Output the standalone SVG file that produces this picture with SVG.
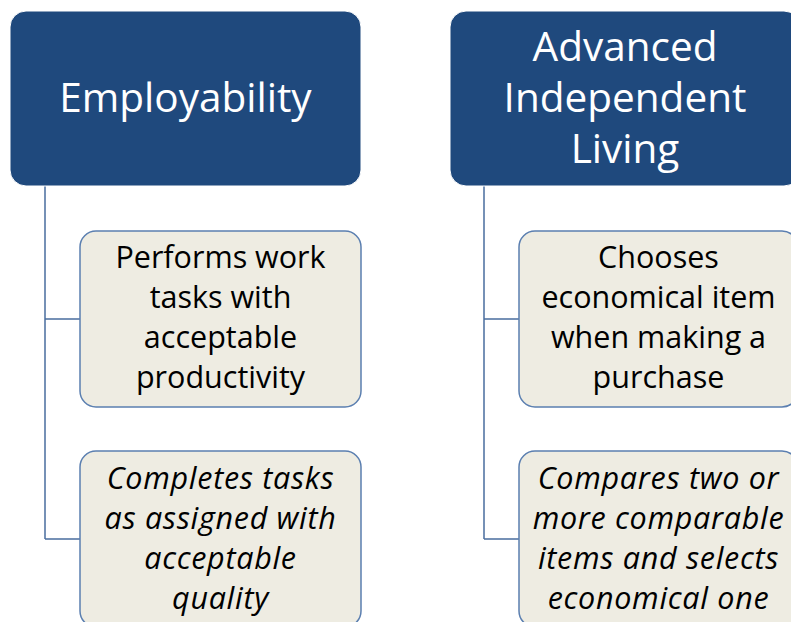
<svg xmlns="http://www.w3.org/2000/svg" width="791" height="622" viewBox="0 0 791 622">
<style>
.hdr{fill:#1F497D;stroke:#FFFFFF;stroke-width:1}
.child{fill:#EEECE2;stroke:#5B7FB0;stroke-width:1.5}
.ht{font-family:"Open Sans","Liberation Sans",sans-serif;font-size:40.5px;fill:#FFFFFF;text-anchor:middle}
.ct{font-family:"Open Sans","Liberation Sans",sans-serif;font-size:30.5px;fill:#000000;text-anchor:middle}
.it{font-style:italic;letter-spacing:0.7px}
.conn{fill:none;stroke:#4A6E9E;stroke-width:1.5}
</style>
<rect width="791" height="622" fill="#FFFFFF"/>
<g id="connectors">
<path class="conn" d="M45,186 V539 M45,319 H80 M45,539 H80"/>
<path class="conn" d="M484,186 V539 M484,319 H519 M484,539 H519"/>
</g>
<g id="employability">
<rect class="hdr" x="10" y="11" width="351" height="175" rx="16"/>
<text class="ht" x="185.5" y="112">Employability</text>
</g>
<g id="performs">
<rect class="child" x="80" y="231" width="281" height="176" rx="16"/>
<text class="ct" x="220.5" y="268">Performs work</text>
<text class="ct" x="220.5" y="308">tasks with</text>
<text class="ct" x="220.5" y="348">acceptable</text>
<text class="ct" x="220.5" y="388">productivity</text>
</g>
<g id="completes">
<rect class="child" x="80" y="451" width="281" height="176" rx="16"/>
<text class="ct it" x="220.5" y="489">Completes tasks</text>
<text class="ct it" x="220.5" y="529">as assigned with</text>
<text class="ct it" x="220.5" y="569">acceptable</text>
<text class="ct it" x="220.5" y="609">quality</text>
</g>
<g id="advanced">
<rect class="hdr" x="450" y="11" width="350" height="175" rx="16"/>
<text class="ht" x="625" y="61">Advanced</text>
<text class="ht" x="625" y="112">Independent</text>
<text class="ht" x="625" y="163">Living</text>
</g>
<g id="chooses">
<rect class="child" x="519" y="231" width="279" height="176" rx="16"/>
<text class="ct" x="658.5" y="268">Chooses</text>
<text class="ct" x="658.5" y="308">economical item</text>
<text class="ct" x="658.5" y="348">when making a</text>
<text class="ct" x="658.5" y="388">purchase</text>
</g>
<g id="compares">
<rect class="child" x="519" y="451" width="279" height="176" rx="16"/>
<text class="ct it" x="658.5" y="489">Compares two or</text>
<text class="ct it" x="658.5" y="529">more comparable</text>
<text class="ct it" x="658.5" y="569">items and selects</text>
<text class="ct it" x="658.5" y="609">economical one</text>
</g>
</svg>
